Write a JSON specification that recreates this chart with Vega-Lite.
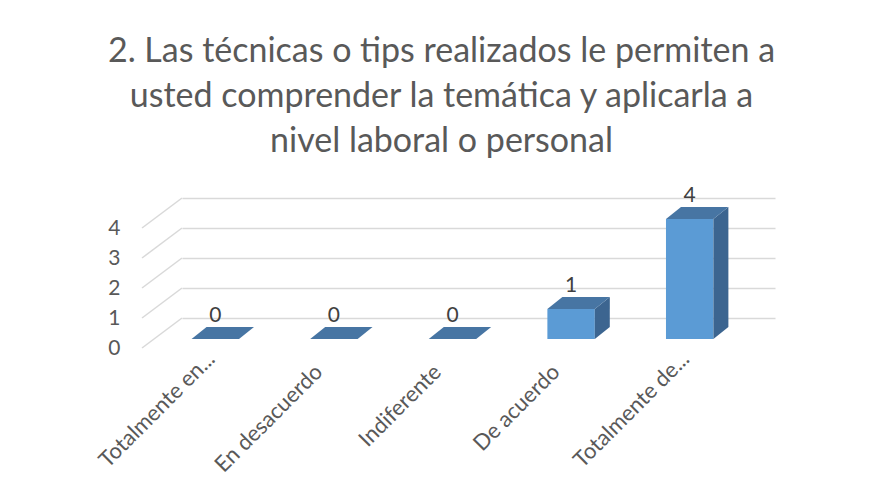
{
  "$schema": "https://vega.github.io/schema/vega-lite/v6.json",
  "autosize": {"type": "none"},
  "width": 593,
  "height": 120,
  "padding": {"left": 182, "top": 198, "right": 98, "bottom": 186},
  "background": "white",
  "config": {
    "view": {"stroke": null},
    "font": "Lato",
    "text": {"font": "Lato"}
  },
  "title": {
    "text": ["2. Las técnicas o tips realizados le permiten a", "usted comprender  la temática y aplicarla a", "nivel laboral o personal"],
    "font": "Lato",
    "fontSize": 34,
    "fontWeight": "normal",
    "color": "#595959",
    "lineHeight": 45,
    "anchor": "middle",
    "frame": "group",
    "dx": -37,
    "offset": 26
  },
  "datasets": {
    "bars": [
      {"categoria": "Totalmente en...", "valor": 0},
      {"categoria": "En desacuerdo", "valor": 0},
      {"categoria": "Indiferente", "valor": 0},
      {"categoria": "De acuerdo", "valor": 1},
      {"categoria": "Totalmente de...", "valor": 4}
    ],
    "niveles": [{"v": 0}, {"v": 1}, {"v": 2}, {"v": 3}, {"v": 4}]
  },
  "layer": [
    {
      "data": {"name": "niveles"},
      "mark": {"type": "rule", "color": "#d9d9d9", "strokeWidth": 1.5, "xOffset": -40, "yOffset": 30, "x2Offset": 0, "y2Offset": 0},
      "encoding": {
        "x": {"value": 0},
        "x2": {"value": 0},
        "y": {
          "field": "v", "type": "quantitative",
          "scale": {"domain": [0, 4], "nice": false},
          "axis": {
            "title": null, "values": [0, 1, 2, 3, 4], "tickCount": 5, "ticks": false, "domain": false,
            "grid": true, "gridColor": "#d9d9d9", "gridWidth": 1.5, "labelOverlap": false,
            "labelOffset": 30, "labelPadding": 62,
            "labelFont": "Lato", "labelFontSize": 21, "labelColor": "#595959"
          }
        },
        "y2": {"field": "v"}
      }
    },
    {
      "data": {"name": "bars"},
      "transform": [{"filter": "datum.valor > 0"}],
      "mark": {"type": "bar", "color": "#5b9bd5", "xOffset": -26, "yOffset": 21, "y2Offset": 21},
      "encoding": {
        "x": {
          "field": "categoria", "type": "nominal", "sort": null,
          "scale": {"domain": ["Totalmente en...", "En desacuerdo", "Indiferente", "De acuerdo", "Totalmente de..."], "paddingInner": 0.6, "paddingOuter": 0.3},
          "axis": {
            "title": null, "ticks": false, "domain": false, "grid": false,
            "labelAngle": -45, "labelAlign": "right", "labelBaseline": "middle",
            "labelOffset": {"condition": {"test": "indexof(datum.value, '...') >= 0", "value": -30}, "value": -41},
            "labelPadding": {"condition": {"test": "indexof(datum.value, '...') >= 0", "value": 37}, "value": 50},
            "labelFont": "Lato", "labelFontSize": 22, "labelColor": "#595959", "labelLimit": 300
          }
        },
        "y": {
          "field": "valor", "type": "quantitative",
          "scale": {"domain": [0, 4], "nice": false},
          "axis": {
            "title": null, "values": [0, 1, 2, 3, 4], "tickCount": 5, "ticks": false, "domain": false,
            "grid": true, "gridColor": "#d9d9d9", "gridWidth": 1.5, "labelOverlap": false,
            "labelOffset": 30, "labelPadding": 62,
            "labelFont": "Lato", "labelFontSize": 21, "labelColor": "#595959"
          }
        },
        "y2": {"datum": 0}
      }
    },
    {
      "data": {"name": "bars"},
      "transform": [{"filter": "datum.valor > 0"}],
      "mark": {"type": "point", "filled": true, "opacity": 1, "size": 3844, "strokeWidth": 0, "color": "#3c6590", "xOffset": -26, "yOffset": 21},
      "encoding": {
        "x": {"field": "categoria", "type": "nominal", "sort": null},
        "y": {"field": "valor", "type": "quantitative"},
        "shape": {
          "field": "valor", "type": "nominal", "legend": null,
          "scale": {
            "domain": [1, 4],
            "range": ["M0.765 0 L0.765 0.968 L1.248 0.581 L1.248 -0.387 Z", "M0.765 0 L0.765 3.871 L1.248 3.484 L1.248 -0.387 Z"]
          }
        }
      }
    },
    {
      "data": {"name": "bars"},
      "mark": {"type": "point", "filled": true, "opacity": 1, "size": 3844, "strokeWidth": 0, "color": "#4775a3", "xOffset": -26, "yOffset": 21,
        "shape": "M-0.765 0 L0.765 0 L1.248 -0.387 L-0.281 -0.387 Z"},
      "encoding": {
        "x": {"field": "categoria", "type": "nominal", "sort": null},
        "y": {"field": "valor", "type": "quantitative"}
      }
    },
    {
      "data": {"name": "bars"},
      "mark": {"type": "text", "font": "Lato", "fontSize": 21, "color": "#404040", "baseline": "alphabetic", "xOffset": -26, "yOffset": 4},
      "encoding": {
        "x": {"field": "categoria", "type": "nominal", "sort": null},
        "y": {"field": "valor", "type": "quantitative"},
        "text": {"field": "valor", "type": "quantitative"}
      }
    }
  ]
}
